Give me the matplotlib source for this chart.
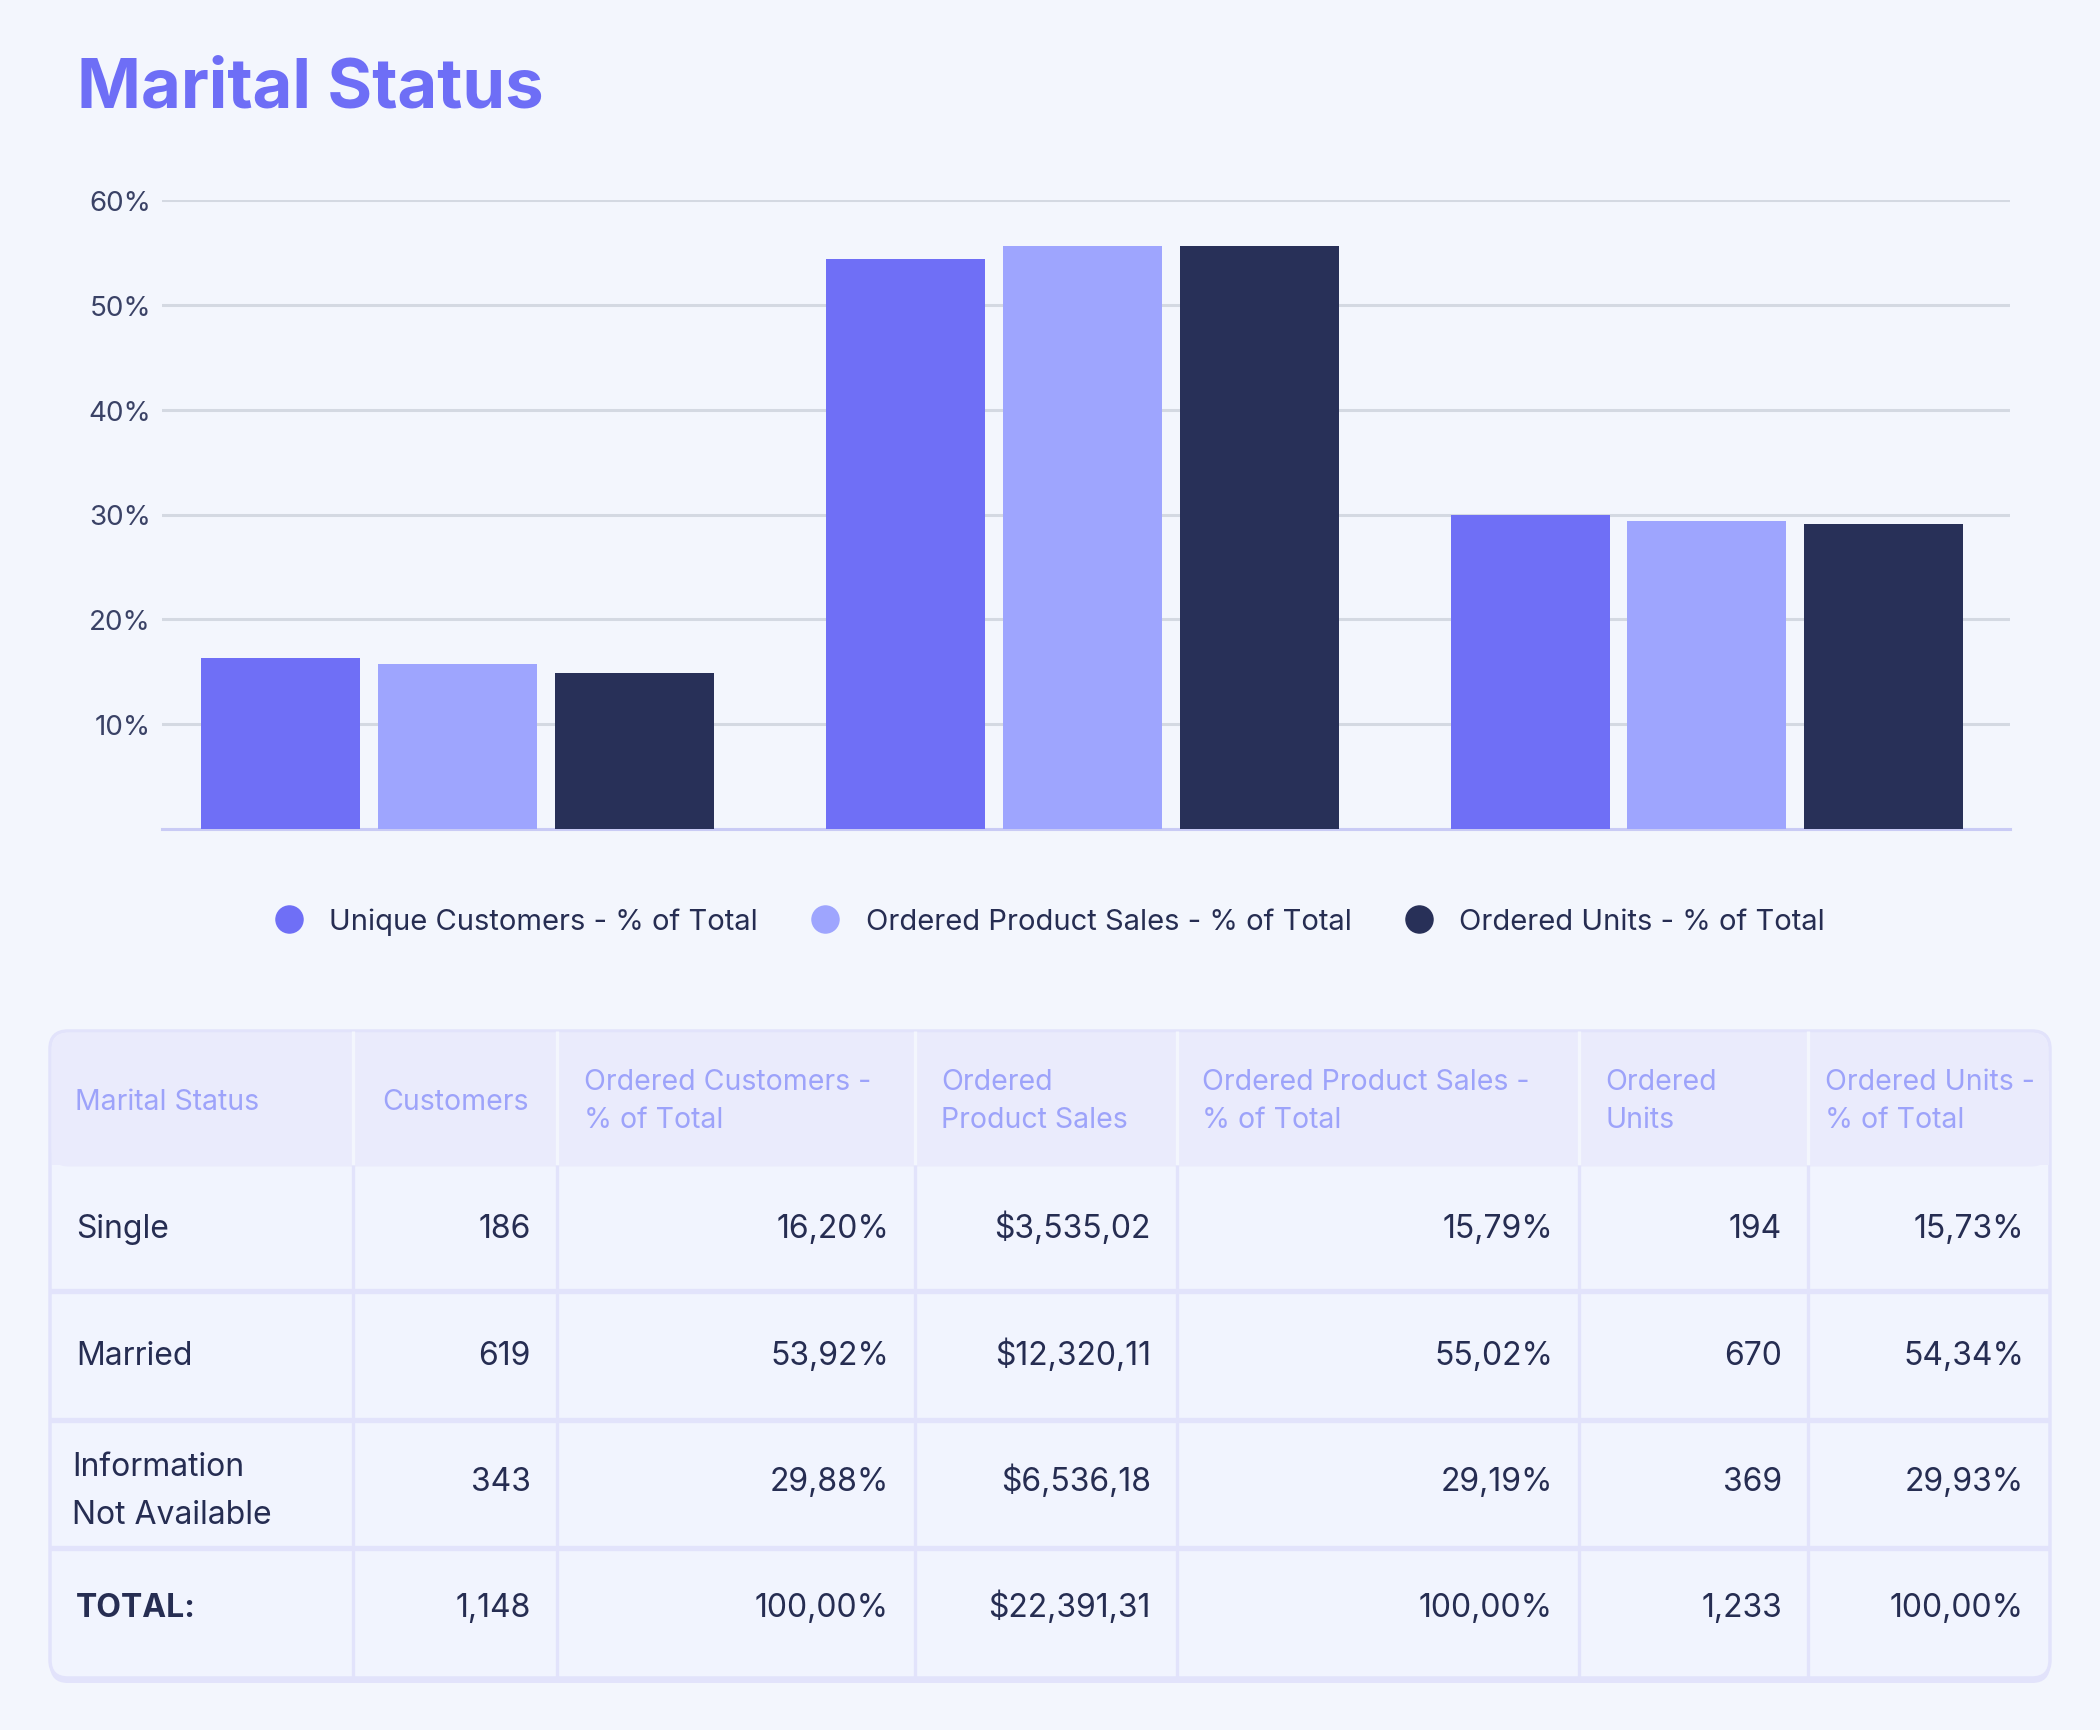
import matplotlib.pyplot as plt
import numpy as np
from matplotlib.lines import Line2D
from matplotlib.patches import FancyBboxPatch, Rectangle

# chart data (% of total)
groups = ["Single", "Married", "Information Not Available"]
unique_customers = [16.3, 54.4, 30.0]
ordered_sales = [15.7, 55.6, 29.4]
ordered_units = [14.9, 55.6, 29.1]
series_names = ["Unique Customers - % of Total",
                "Ordered Product Sales - % of Total",
                "Ordered Units - % of Total"]
y_ticks = [10, 20, 30, 40, 50, 60]

# table data
table_header = ["Marital Status", "Customers", "Ordered Customers -\n% of Total",
                "Ordered\nProduct Sales", "Ordered Product Sales -\n% of Total",
                "Ordered\nUnits", "Ordered Units -\n% of Total"]
row_labels = ["Single", "Married", "Information\nNot Available", "TOTAL:"]
customers = ["186", "619", "343", "1,148"]
customers_pct = ["16,20%", "53,92%", "29,88%", "100,00%"]
product_sales = ["$3,535,02", "$12,320,11", "$6,536,18", "$22,391,31"]
product_sales_pct = ["15,79%", "55,02%", "29,19%", "100,00%"]
units = ["194", "670", "369", "1,233"]
units_pct = ["15,73%", "54,34%", "29,93%", "100,00%"]

BG = "#F3F6FD"
COLORS = ["#6F6FF6", "#9EA5FE", "#283058"]
TITLE_C = "#6E6EF6"
TEXT_C = "#262D52"
TICK_C = "#3A4266"
HEAD_C = "#9DA3FA"
HEAD_BG = "#EAEBFC"
CELL_BG = "#F1F4FE"
LINE_C = "#E2E3FB"

plt.rcParams['font.family'] = ['Inter', 'DejaVu Sans']

W, H = 2100, 1731
fig = plt.figure(figsize=(W / 100, H / 100), dpi=100, facecolor=BG)

fig.text(77 / W, 1 - 108 / H, "Marital Status", fontsize=49.5, fontweight='bold',
         color=TITLE_C, ha='left', va='baseline')

# ---- bar chart ----
ax = fig.add_axes([162 / W, 1 - 830 / H, (2010 - 162) / W, (830 - 201) / H])
ax.set_facecolor(BG)
x = np.arange(len(groups))
width = 0.2545
step = 0.2833
for i, (vals, name) in enumerate(zip([unique_customers, ordered_sales, ordered_units], series_names)):
    ax.bar(x + (i - 1) * step, vals, width, color=COLORS[i], label=name, zorder=3)

ax.set_ylim(0, 60)
ax.set_xlim(-0.473, 2.485)
ax.set_yticks(y_ticks)
ax.set_yticklabels([f"{t}%" for t in y_ticks])
ax.set_xticks([])
ax.tick_params(axis='y', length=0, pad=8, labelsize=20, labelcolor=TICK_C)
ax.grid(axis='y', color="#D4D9E2", linewidth=2.2, zorder=0)
for s in ['top', 'right', 'left']:
    ax.spines[s].set_visible(False)
ax.spines['bottom'].set_color("#C9CBF5")
ax.spines['bottom'].set_linewidth(2.2)

handles = [Line2D([], [], marker='o', ls='', color=c, markersize=19.5) for c in COLORS]
fig.legend(handles, series_names, loc='center', bbox_to_anchor=(0.5, 1 - 922 / H),
           ncol=3, frameon=False, fontsize=21, labelcolor=TEXT_C,
           handlelength=0.95, handletextpad=0.9, columnspacing=1.85)

# ---- table ----
tb = fig.add_axes([0, 0, 1, 1], facecolor='none')
tb.set_xlim(0, W)
tb.set_ylim(H, 0)
tb.axis('off')

col_edges = [50, 353, 557, 915, 1177, 1579, 1808, 2050]
row_edges = [1032, 1166, 1292, 1421, 1549, 1679]
t_left, t_right = col_edges[0], col_edges[-1]
t_top, t_bot = row_edges[0], row_edges[-1]

tb.add_patch(FancyBboxPatch((t_left, t_top + 5), t_right - t_left, t_bot - t_top,
                            boxstyle="round,pad=0,rounding_size=18", fc=LINE_C, ec='none'))
tb.add_patch(FancyBboxPatch((t_left, t_top), t_right - t_left, t_bot - t_top,
                            boxstyle="round,pad=0,rounding_size=18", fc=CELL_BG,
                            ec=LINE_C, lw=2.5))
tb.add_patch(FancyBboxPatch((t_left + 1.5, t_top + 1.5), t_right - t_left - 3, row_edges[1] - t_top,
                            boxstyle="round,pad=0,rounding_size=17", fc=HEAD_BG, ec='none'))
tb.add_patch(Rectangle((t_left + 1.5, t_top + 40), t_right - t_left - 3, row_edges[1] - t_top - 40,
                       fc=HEAD_BG, ec='none'))

for cx in col_edges[1:-1]:
    tb.plot([cx, cx], [t_top, row_edges[1]], color=BG, lw=2.4, solid_capstyle='butt')
    tb.plot([cx, cx], [row_edges[1], t_bot], color=LINE_C, lw=2.4, solid_capstyle='butt')
for ry in row_edges[2:-1]:
    tb.plot([t_left, t_right], [ry, ry], color=LINE_C, lw=3.8, solid_capstyle='butt')

# header text
head_pad = [25, 29, 27, 26, 25, 26, 17]
for j, htxt in enumerate(table_header):
    lines = htxt.split("\n")
    bases = [1110] if len(lines) == 1 else [1090, 1128]
    for ln, by in zip(lines, bases):
        tb.text(col_edges[j] + head_pad[j], by, ln, fontsize=20.5, color=HEAD_C,
                ha='left', va='baseline')

# body text
baselines = [1238, 1365, 1491, 1617]
columns = [customers, customers_pct, product_sales, product_sales_pct, units, units_pct]
for r, label in enumerate(row_labels):
    lines = label.split("\n")
    bold = label.startswith("TOTAL")
    if len(lines) == 1:
        tb.text(col_edges[0] + 26, baselines[r], label, fontsize=23, color=TEXT_C,
                ha='left', va='baseline', fontweight='bold' if bold else 'normal')
    else:
        for k, ln in enumerate(lines):
            tb.text(col_edges[0] + 22, 1476 + 48 * k, ln, fontsize=23, color=TEXT_C,
                    ha='left', va='baseline')
    for c, col in enumerate(columns):
        tb.text(col_edges[c + 2] - 26, baselines[r], col[r], fontsize=23, color=TEXT_C,
                ha='right', va='baseline')

fig.savefig("out.png", dpi=100, facecolor=BG)
